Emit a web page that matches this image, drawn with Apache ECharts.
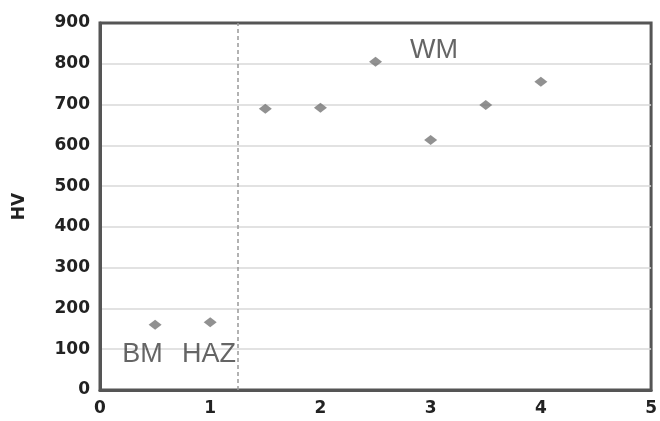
<!DOCTYPE html>
<html>
<head>
<meta charset="utf-8">
<script src="https://cdn.jsdelivr.net/npm/echarts@6/dist/echarts.min.js"></script>
<style>
  html, body { margin: 0; padding: 0; background: #fff; }
  #chart { width: 660px; height: 421px; }
</style>
</head>
<body>
<div id="chart"></div>
<script>
// measured points (position, hardness)
const xValues = [0.5, 1, 1.5, 2, 2.5, 3, 3.5, 4];
const hvValues = [160, 166, 690, 692, 805, 613, 699, 756];

// zone names and where they sit
const zoneNames = ['BM', 'HAZ', 'WM'];
const zoneX = [0.385, 0.99, 3.03];
const zoneY = [86, 86, 833];

const boundaryX = 1.25;

const chart = echarts.init(document.getElementById('chart'));

const axisFont = {
  fontFamily: 'DejaVu Sans',
  fontWeight: 'bold',
  fontSize: 17,
  color: '#222'
};

chart.setOption({
  animation: false,
  grid: {
    left: 100, right: 6, top: 23, bottom: 31,
    show: true, borderColor: '#555', borderWidth: 3
  },
  xAxis: {
    type: 'value', min: 0, max: 5, interval: 1,
    axisLine: { show: true, lineStyle: { color: '#555', width: 3 } },
    axisTick: { show: false },
    splitLine: { show: false },
    axisLabel: Object.assign({ margin: 10 }, axisFont)
  },
  yAxis: {
    type: 'value', min: 0, max: 900, interval: 100,
    name: 'HV', nameLocation: 'middle', nameGap: 72,
    nameTextStyle: Object.assign({}, axisFont),
    axisLine: { show: true, lineStyle: { color: '#555', width: 3 } },
    axisTick: { show: false },
    splitLine: { showMaxLine: false, lineStyle: { color: '#d9d9d9', width: 1.5 } },
    axisLabel: Object.assign({ margin: 10 }, axisFont)
  },
  series: [
    {
      type: 'scatter',
      symbol: 'diamond',
      symbolSize: [13, 10],
      itemStyle: { color: '#767676' },
      data: xValues.map((x, i) => [x, hvValues[i]]),
      markLine: {
        silent: true,
        symbol: 'none',
        label: { show: false },
        lineStyle: { color: '#999', type: [4, 3], width: 1.5 },
        data: [{ xAxis: boundaryX }]
      }
    },
    {
      type: 'scatter',
      symbolSize: 0,
      silent: true,
      label: {
        show: true,
        position: 'inside',
        formatter: p => zoneNames[p.dataIndex],
        fontFamily: 'Liberation Sans',
        fontSize: 27,
        color: '#3f3f3f'
      },
      data: zoneX.map((x, i) => [x, zoneY[i]])
    }
  ]
});
</script>
</body>
</html>
